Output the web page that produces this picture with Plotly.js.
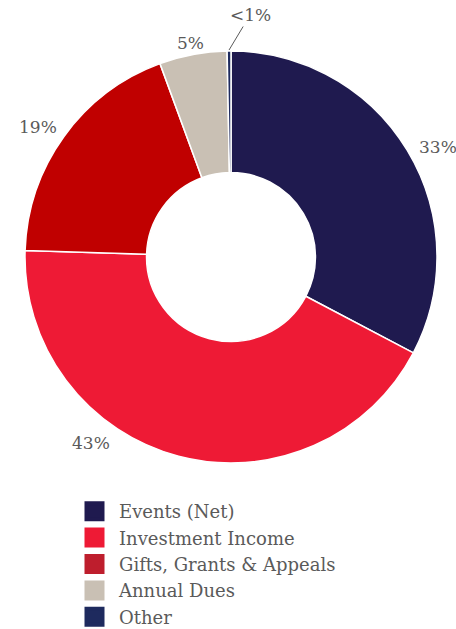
<!DOCTYPE html>
<html>
<head>
<meta charset="utf-8">
<script src="https://cdn.plot.ly/plotly-3.0.1.min.js"></script>
<style>html,body{margin:0;padding:0;background:#fff;}#chart{width:456px;height:629px;}</style>
</head>
<body>
<div id="chart"></div>
<script>
var categories = ["Events (Net)", "Investment Income", "Gifts, Grants & Appeals", "Annual Dues", "Other"];
var values = [32.7, 42.8, 18.9, 5.3, 0.3];
var valueLabels = ["33%", "43%", "19%", "5%", "<1%"];
var colors = ["#1f1a4f", "#ee1a35", "#c00000", "#c9c0b4", "#1e2a5e"];
var legendColors = ["#1f1a4f", "#ee1a35", "#be1e2d", "#c9c0b4", "#1e2a5e"];

// geometry (pixels)
var W = 456, H = 629;
var CX = 231, CY = 257, R = 206;
// label placement config (layout, not data)
var labelRadius = [234, 233, 233, 218, 207];
var labelAngleOverride = [62, 217, 304, null, null];

var pie = {
  type: "pie",
  labels: categories,
  values: values,
  textinfo: "none",
  hole: 0.41,
  sort: false,
  direction: "clockwise",
  rotation: 0,
  showlegend: false,
  marker: {colors: colors, line: {color: "#ffffff", width: 1.5}},
  domain: {x: [(CX - R) / W, (CX + R) / W], y: [(H - CY - R) / H, (H - CY + R) / H]},
  automargin: false,
  hoverinfo: "label+percent"
};

var traces = [pie];
categories.forEach(function (c, i) {
  traces.push({
    type: "scatter",
    mode: "markers",
    x: [null], y: [null],
    name: c,
    showlegend: true,
    marker: {symbol: "square", size: 16, color: legendColors[i], line: {color: legendColors[i], width: 4}},
    hoverinfo: "skip"
  });
});

var total = values.reduce(function (a, b) { return a + b; }, 0);
var annotations = [];
var cum = 0;
values.forEach(function (v, i) {
  var mid = (cum + v / 2) / total * 360;
  cum += v;
  var ang = labelAngleOverride[i] !== null ? labelAngleOverride[i] : mid;
  var rad = ang * Math.PI / 180;
  var r = labelRadius[i];
  var px = CX + r * Math.sin(rad);
  var py = CY - r * Math.cos(rad);
  var ann = {
    xref: "paper", yref: "paper",
    x: px / W, y: 1 - py / H,
    text: valueLabels[i],
    showarrow: false,
    xanchor: "center", yanchor: "middle",
    font: {family: "DejaVu Serif", size: 17, color: "#5a5a5a"}
  };
  if (i === values.length - 1) {
    ann.showarrow = true;
    ann.arrowhead = 0;
    ann.arrowwidth = 1;
    ann.arrowcolor = "#5a5a5a";
    ann.ax = 21;
    ann.ay = -35;
    ann.standoff = 0;
  }
  annotations.push(ann);
});

var layout = {
  width: W,
  height: H,
  margin: {l: 0, r: 0, t: 0, b: 0, autoexpand: false},
  paper_bgcolor: "#ffffff",
  plot_bgcolor: "rgba(0,0,0,0)",
  xaxis: {visible: false, domain: [0, 0.01]},
  yaxis: {visible: false, domain: [0, 0.01]},
  showlegend: true,
  legend: {
    x: 70 / W, xanchor: "left",
    y: (H - 493) / H, yanchor: "top",
    font: {family: "DejaVu Serif", size: 18, color: "#5a5a5a"},
    itemwidth: 39,
    traceorder: "normal",
    bgcolor: "rgba(0,0,0,0)"
  },
  annotations: annotations
};

Plotly.newPlot("chart", traces, layout, {displayModeBar: false, staticPlot: true});
</script>
</body>
</html>
